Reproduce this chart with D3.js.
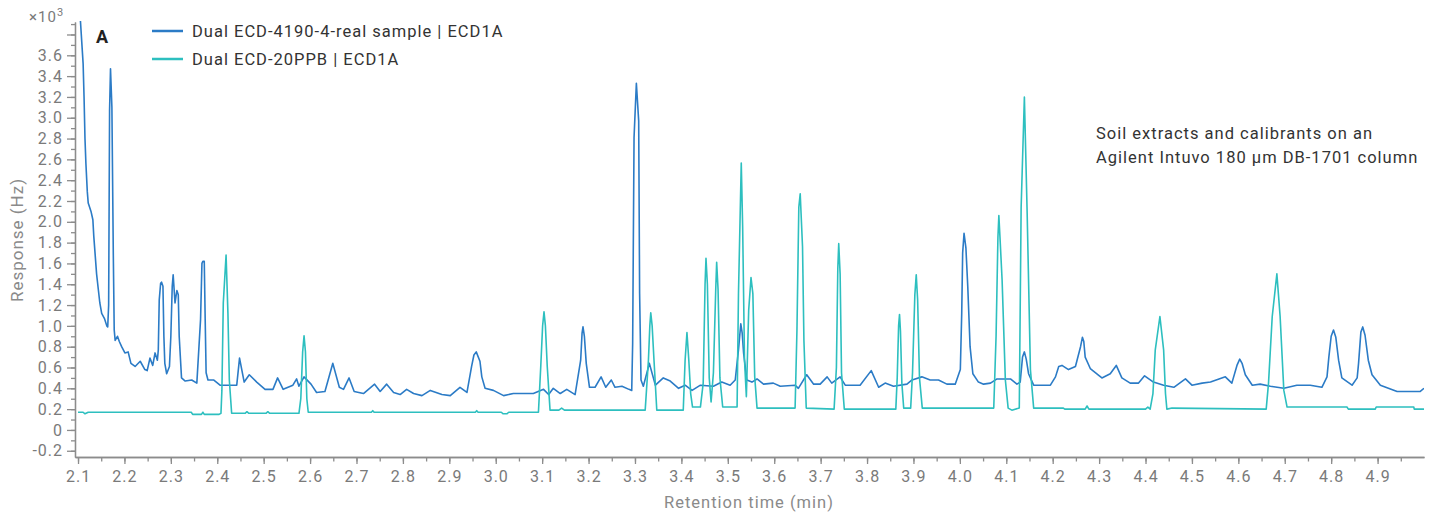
<!DOCTYPE html>
<html>
<head>
<meta charset="utf-8">
<script src="https://cdn.jsdelivr.net/npm/d3@7"></script>
<style>
  html, body { margin: 0; padding: 0; background: #fff; }
  svg { display: block; font-family: Roboto, "Noto Sans", sans-serif; letter-spacing: 1px; }
</style>
</head>
<body>
<div class="chart"></div>
<script>
// chromatogram traces: [retention time (min), response (x10^3 Hz)]
var sampleTrace = [
  [2.100, 4.30], [2.111, 3.52], [2.113, 3.20], [2.115, 2.80], [2.117, 2.56], [2.120, 2.29],
  [2.122, 2.18], [2.128, 2.10], [2.132, 2.02], [2.134, 1.86], [2.137, 1.68], [2.140, 1.50],
  [2.144, 1.34], [2.147, 1.22], [2.151, 1.12], [2.157, 1.07], [2.162, 1.00], [2.164, 0.99],
  [2.166, 1.20], [2.168, 3.07], [2.170, 3.47], [2.173, 3.10], [2.176, 1.70], [2.178, 0.96],
  [2.180, 0.86], [2.185, 0.90],
  [2.189, 0.85], [2.194, 0.80], [2.201, 0.74], [2.208, 0.75], [2.214, 0.64], [2.223, 0.61],
  [2.234, 0.66], [2.244, 0.58], [2.249, 0.57], [2.255, 0.69], [2.261, 0.62], [2.266, 0.74],
  [2.271, 0.67], [2.273, 0.77], [2.275, 1.25], [2.278, 1.41], [2.280, 1.42], [2.283, 1.38],
  [2.285, 0.90], [2.287, 0.64], [2.291, 0.54], [2.297, 0.61], [2.300, 0.90], [2.303, 1.38],
  [2.305, 1.49], [2.309, 1.22], [2.313, 1.34], [2.316, 1.30], [2.318, 0.90], [2.323, 0.50],
  [2.331, 0.47], [2.345, 0.48], [2.356, 0.45], [2.364, 1.06], [2.367, 1.60], [2.369, 1.62],
  [2.372, 1.62], [2.374, 1.06], [2.376, 0.55],
  [2.380, 0.48], [2.392, 0.48], [2.406, 0.43], [2.442, 0.43], [2.448, 0.69], [2.458, 0.46],
  [2.469, 0.53], [2.485, 0.46], [2.503, 0.39], [2.520, 0.39], [2.530, 0.50], [2.542, 0.39],
  [2.563, 0.43], [2.571, 0.49], [2.576, 0.42], [2.587, 0.51], [2.602, 0.44], [2.614, 0.36],
  [2.632, 0.37], [2.649, 0.64], [2.663, 0.41], [2.672, 0.39], [2.684, 0.50], [2.695, 0.37],
  [2.715, 0.35], [2.739, 0.44], [2.751, 0.37], [2.765, 0.44], [2.780, 0.36], [2.794, 0.34],
  [2.808, 0.39], [2.823, 0.35], [2.841, 0.33], [2.859, 0.38], [2.884, 0.34], [2.902, 0.33],
  [2.923, 0.41], [2.938, 0.36], [2.948, 0.61], [2.953, 0.72], [2.958, 0.75], [2.966, 0.66],
  [2.970, 0.51], [2.977, 0.40], [2.995, 0.38],
  [3.017, 0.33], [3.038, 0.35], [3.081, 0.35], [3.103, 0.39], [3.114, 0.34], [3.124, 0.40],
  [3.139, 0.35], [3.153, 0.39], [3.171, 0.34], [3.183, 0.67], [3.186, 0.93], [3.188, 0.99],
  [3.191, 0.90], [3.195, 0.64], [3.202, 0.41],
  [3.214, 0.41], [3.227, 0.51], [3.237, 0.41], [3.249, 0.48], [3.257, 0.41], [3.272, 0.42],
  [3.287, 0.39], [3.293, 0.38], [3.295, 0.83], [3.298, 2.81], [3.303, 3.33], [3.308, 2.97],
  [3.310, 1.31], [3.313, 0.48], [3.318, 0.42], [3.331, 0.64],
  [3.344, 0.43], [3.361, 0.50], [3.376, 0.47], [3.394, 0.40], [3.408, 0.43], [3.423, 0.38],
  [3.441, 0.43], [3.469, 0.42], [3.487, 0.46], [3.505, 0.43], [3.516, 0.48], [3.523, 0.77],
  [3.528, 1.02], [3.531, 0.93], [3.534, 0.74], [3.541, 0.48], [3.552, 0.46], [3.563, 0.49],
  [3.577, 0.44], [3.598, 0.45],
  [3.613, 0.42], [3.645, 0.43], [3.652, 0.40], [3.670, 0.53], [3.685, 0.44], [3.699, 0.44],
  [3.714, 0.51], [3.724, 0.45], [3.742, 0.51], [3.753, 0.43], [3.785, 0.43], [3.809, 0.57],
  [3.825, 0.41], [3.839, 0.45], [3.857, 0.42], [3.886, 0.44], [3.897, 0.48], [3.918, 0.51],
  [3.936, 0.48], [3.954, 0.48], [3.972, 0.44], [3.990, 0.44], [4.001, 0.58], [4.004, 1.12],
  [4.006, 1.70], [4.009, 1.89], [4.013, 1.75], [4.017, 1.38], [4.022, 0.80], [4.028, 0.54],
  [4.040, 0.46], [4.051, 0.44], [4.066, 0.45],
  [4.080, 0.49], [4.109, 0.49], [4.123, 0.44], [4.130, 0.46], [4.135, 0.70], [4.139, 0.75],
  [4.143, 0.68], [4.148, 0.54], [4.159, 0.43], [4.195, 0.43], [4.206, 0.51], [4.213, 0.61],
  [4.220, 0.62], [4.234, 0.58], [4.249, 0.61], [4.260, 0.80], [4.264, 0.89], [4.267, 0.85],
  [4.270, 0.70], [4.281, 0.59], [4.306, 0.50], [4.324, 0.54],
  [4.337, 0.62], [4.349, 0.50], [4.367, 0.45], [4.385, 0.45], [4.398, 0.52], [4.417, 0.46],
  [4.439, 0.43], [4.461, 0.41], [4.486, 0.49], [4.500, 0.43], [4.522, 0.45], [4.540, 0.46],
  [4.572, 0.51], [4.586, 0.45], [4.597, 0.62], [4.603, 0.68], [4.608, 0.64], [4.615, 0.53],
  [4.630, 0.43], [4.647, 0.44],
  [4.669, 0.42], [4.698, 0.40], [4.726, 0.43], [4.755, 0.43], [4.780, 0.41], [4.791, 0.51],
  [4.795, 0.70], [4.800, 0.90], [4.805, 0.96], [4.810, 0.89], [4.816, 0.67], [4.823, 0.50],
  [4.845, 0.43], [4.856, 0.50], [4.859, 0.64], [4.864, 0.94], [4.868, 0.99], [4.873, 0.91],
  [4.880, 0.67], [4.888, 0.53], [4.906, 0.43], [4.942, 0.37], [4.992, 0.37], [5.000, 0.40]
];

var standardTrace = [
  [2.100, 0.17], [2.111, 0.17], [2.115, 0.155], [2.122, 0.17], [2.344, 0.17], [2.347, 0.15],
  [2.366, 0.15], [2.369, 0.17], [2.372, 0.15], [2.404, 0.15], [2.408, 0.16], [2.410, 0.38],
  [2.413, 1.22], [2.419, 1.68], [2.423, 1.12], [2.426, 0.48], [2.431, 0.16],
  [2.436, 0.16], [2.460, 0.16], [2.464, 0.175], [2.468, 0.16], [2.505, 0.16], [2.509, 0.175],
  [2.513, 0.16], [2.574, 0.16],
  [2.576, 0.16], [2.580, 0.30], [2.584, 0.75], [2.587, 0.905], [2.590, 0.75], [2.593, 0.30],
  [2.596, 0.17], [2.732, 0.17], [2.735, 0.185], [2.738, 0.17], [2.956, 0.17], [2.959, 0.185],
  [2.962, 0.17], [3.012, 0.17], [3.016, 0.155], [3.024, 0.155], [3.028, 0.17],
  [3.092, 0.17], [3.097, 0.61], [3.101, 1.00], [3.104, 1.135],
  [3.107, 1.00], [3.111, 0.61], [3.117, 0.19], [3.136, 0.19], [3.142, 0.21], [3.148, 0.19],
  [3.322, 0.19], [3.329, 0.67], [3.332, 1.00], [3.334, 1.125], [3.337, 1.00],
  [3.341, 0.67], [3.347, 0.19], [3.404, 0.19], [3.408, 0.67], [3.412, 0.935], [3.416, 0.67],
  [3.420, 0.35], [3.424, 0.22], [3.441, 0.22], [3.447, 0.45], [3.451, 1.40], [3.453, 1.65],
  [3.456, 1.40], [3.460, 0.50], [3.464, 0.27], [3.469, 0.55], [3.474, 1.35], [3.476, 1.61],
  [3.479, 1.35], [3.483, 0.50], [3.489, 0.22], [3.520, 0.22], [3.523, 1.31], [3.529, 2.565],
  [3.532, 1.95], [3.536, 0.67], [3.540, 0.32], [3.545, 1.15], [3.550, 1.465], [3.554, 1.31],
  [3.558, 0.51], [3.563, 0.21], [3.645, 0.21], [3.649, 0.96], [3.653, 2.14], [3.656, 2.27],
  [3.661, 1.76], [3.664, 0.86], [3.669, 0.21], [3.729, 0.20], [3.734, 0.60], [3.737, 1.55],
  [3.739, 1.79], [3.742, 1.50], [3.745, 0.55], [3.751, 0.20], [3.862, 0.20], [3.865, 0.50],
  [3.868, 1.00], [3.870, 1.11], [3.872, 0.95], [3.875, 0.45], [3.879, 0.21], [3.894, 0.21],
  [3.898, 0.55], [3.903, 1.30], [3.906, 1.49], [3.909, 1.25], [3.913, 0.50], [3.919, 0.21],
  [4.073, 0.21], [4.078, 0.90], [4.082, 1.85], [4.084, 2.06], [4.087, 1.80], [4.091, 1.44],
  [4.098, 0.48], [4.104, 0.21], [4.112, 0.19], [4.128, 0.21], [4.132, 2.14], [4.139, 3.20],
  [4.145, 2.08], [4.152, 0.58], [4.159, 0.21], [4.223, 0.21], [4.226, 0.20], [4.270, 0.20],
  [4.274, 0.23], [4.278, 0.20], [4.400, 0.20], [4.405, 0.22], [4.410, 0.20], [4.416, 0.35],
  [4.421, 0.77], [4.431, 1.09], [4.439, 0.77], [4.443, 0.35], [4.446, 0.20], [4.457, 0.21],
  [4.660, 0.20], [4.665, 0.45], [4.673, 1.09], [4.683, 1.50], [4.690, 1.09], [4.698, 0.38],
  [4.705, 0.22], [4.834, 0.22], [4.837, 0.20], [4.895, 0.20], [4.897, 0.22], [4.978, 0.22],
  [4.979, 0.20], [5.000, 0.20]
];

var seriesNames = ["Dual ECD-4190-4-real sample | ECD1A", "Dual ECD-20PPB | ECD1A"];
var seriesColors = ["#2b7bc6", "#2dbfbf"];
var xMajorTicks = d3.range(21, 50).map(function (d) { return d / 10; });      // 2.1 .. 4.9
var xMinorTicks = d3.range(42, 100).map(function (d) { return d / 20; });     // every 0.05
var yMajorTicks = d3.range(-1, 20).map(function (d) { return d / 5; });       // -0.2 .. 3.8
var yMinorTicks = d3.range(-2, 40).map(function (d) { return d / 10; });      // every 0.1
var noteLines = ["Soil extracts and calibrants on an", "Agilent Intuvo 180 \u00b5m DB-1701 column"];

var width = 1440, height = 519;
var axisColor = "#8c8c8c", labelColor = "#7a7a7a";

var svg = d3.select(".chart").append("svg").attr("width", width).attr("height", height);

var x = d3.scaleLinear().domain([2.0935, 5.0]).range([75, 1424]);
var y = d3.scaleLinear().domain([-0.26, 3.92]).range([457, 22]);

// clip traces to the plot box
svg.append("defs").append("clipPath").attr("id", "plotclip")
  .append("rect").attr("x", 75).attr("y", 21).attr("width", 1349).attr("height", 436);

function fmt(v) {
  if (Math.abs(v) < 1e-9) return "0";
  return (v < 0 ? "-" : "") + Math.abs(v).toFixed(1);
}

function styleAxis(g) {
  g.selectAll("path.domain").attr("stroke", axisColor).attr("stroke-width", 1.3);
  g.selectAll("line").attr("stroke", axisColor).attr("stroke-width", 1.3);
  g.selectAll("text").attr("fill", labelColor).style("font-size", "16px")
    .style("font-family", "Roboto, 'Noto Sans', sans-serif");
}

// y axis: minor then major
svg.append("g").attr("transform", "translate(75,0)")
  .call(d3.axisLeft(y).tickValues(yMinorTicks).tickSize(4).tickFormat("").tickSizeOuter(0))
  .call(styleAxis);
svg.append("g").attr("transform", "translate(75,0)")
  .call(d3.axisLeft(y).tickValues(yMajorTicks).tickSize(8).tickPadding(4).tickSizeOuter(0)
    .tickFormat(function (d) { return d > 3.7 ? "" : fmt(d); }))
  .call(styleAxis);

// x axis: minor then major
svg.append("g").attr("transform", "translate(0,457)")
  .call(d3.axisBottom(x).tickValues(xMinorTicks).tickSize(4.5).tickFormat("").tickSizeOuter(0))
  .call(styleAxis);
svg.append("g").attr("transform", "translate(0,457)")
  .call(d3.axisBottom(x).tickValues(xMajorTicks).tickSize(7).tickPadding(7).tickSizeOuter(0)
    .tickFormat(function (d) { return d.toFixed(1); }))
  .call(styleAxis);

// traces
var line = d3.line().x(function (d) { return x(d[0]); }).y(function (d) { return y(d[1]); });
var traces = svg.append("g").attr("clip-path", "url(#plotclip)");
[sampleTrace, standardTrace].forEach(function (data, i) {
  traces.append("path").datum(data).attr("d", line)
    .attr("fill", "none").attr("stroke", seriesColors[i]).attr("stroke-width", 1.6)
    .attr("stroke-linejoin", "round");
});

// multiplier label
var mult = svg.append("text").attr("x", 29).attr("y", 22).attr("fill", labelColor).style("font-size", "15px");
mult.append("tspan").text("\u00d710");
mult.append("tspan").attr("dy", -6).style("font-size", "11px").text("3");

// panel letter
svg.append("text").attr("x", 96).attr("y", 43).attr("fill", "#222").style("letter-spacing", "0px")
  .style("font-size", "18px").style("font-weight", "bold").text("A");

// legend
seriesNames.forEach(function (name, i) {
  var ly = 31 + i * 28;
  svg.append("line").attr("x1", 152).attr("x2", 183).attr("y1", ly).attr("y2", ly)
    .attr("stroke", seriesColors[i]).attr("stroke-width", 2.5);
  svg.append("text").attr("x", 192).attr("y", ly + 6).attr("fill", "#333")
    .style("font-size", "16.5px").text(name);
});

// note
noteLines.forEach(function (t, i) {
  svg.append("text").attr("x", 1096).attr("y", 139 + i * 23.7).attr("fill", "#333")
    .style("font-size", "16.5px").text(t);
});

// axis titles
svg.append("text").attr("transform", "translate(23,240) rotate(-90)")
  .attr("text-anchor", "middle").attr("fill", "#8a8a8a").style("font-size", "17px")
  .text("Response (Hz)");
svg.append("text").attr("x", 749).attr("y", 508).attr("text-anchor", "middle")
  .attr("fill", "#8a8a8a").style("font-size", "16.5px").text("Retention time (min)");
</script>
</body>
</html>
